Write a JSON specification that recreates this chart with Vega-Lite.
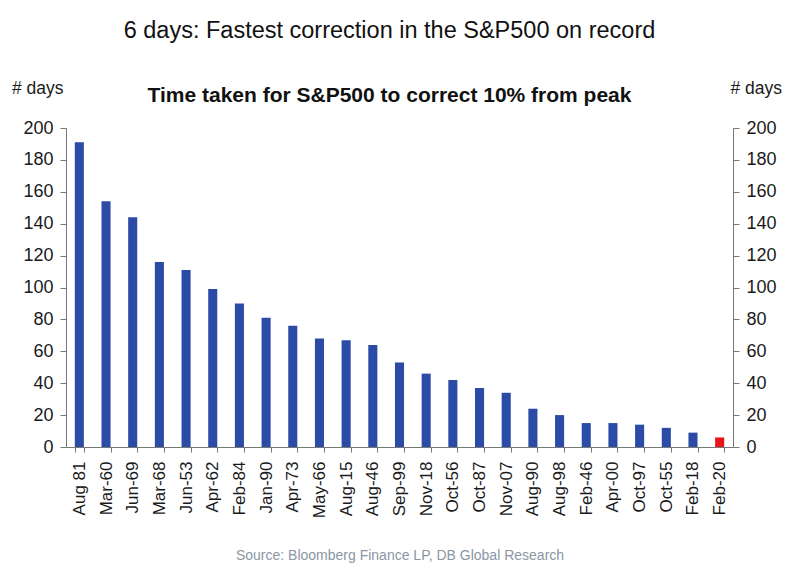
{
  "$schema": "https://vega.github.io/schema/vega-lite/v6.json",
  "width": 667,
  "height": 319,
  "autosize": {"type": "none"},
  "padding": {"left": 66, "top": 128, "right": 67, "bottom": 117},
  "background": "white",
  "config": {
    "font": "Liberation Sans",
    "view": {"stroke": null},
    "axis": {"grid": false, "domainColor": "#777777", "tickColor": "#777777", "labelColor": "#1a1a1a", "titleColor": "#1a1a1a"}
  },
  "title": {
    "text": "6 days: Fastest correction in the S&P500 on record",
    "subtitle": "Time taken for S&P500 to correct 10% from peak",
    "anchor": "middle",
    "fontSize": 23.5,
    "fontWeight": "normal",
    "color": "#111111",
    "subtitleFontSize": 21,
    "subtitleFontWeight": "bold",
    "subtitleColor": "#111111",
    "subtitlePadding": 43,
    "offset": -27,
    "dx": -10
  },
  "data": {
    "values": [
      {"period": "Aug 81", "days": 191},
      {"period": "Mar-60", "days": 154},
      {"period": "Jun-69", "days": 144},
      {"period": "Mar-68", "days": 116},
      {"period": "Jun-53", "days": 111},
      {"period": "Apr-62", "days": 99},
      {"period": "Feb-84", "days": 90},
      {"period": "Jan-90", "days": 81},
      {"period": "Apr-73", "days": 76},
      {"period": "May-66", "days": 68},
      {"period": "Aug-15", "days": 67},
      {"period": "Aug-46", "days": 64},
      {"period": "Sep-99", "days": 53},
      {"period": "Nov-18", "days": 46},
      {"period": "Oct-56", "days": 42},
      {"period": "Oct-87", "days": 37},
      {"period": "Nov-07", "days": 34},
      {"period": "Aug-90", "days": 24},
      {"period": "Aug-98", "days": 20},
      {"period": "Feb-46", "days": 15},
      {"period": "Apr-00", "days": 15},
      {"period": "Oct-97", "days": 14},
      {"period": "Oct-55", "days": 12},
      {"period": "Feb-18", "days": 9},
      {"period": "Feb-20", "days": 6}
    ]
  },
  "encoding": {
    "x": {
      "field": "period",
      "type": "nominal",
      "sort": null,
      "scale": {"paddingInner": 0.66, "paddingOuter": 0.33},
      "axis": {
        "title": "Source: Bloomberg Finance LP, DB Global Research",
        "titleColor": "#8a96a3",
        "titleFontSize": 14,
        "titleFontWeight": "normal",
        "titleY": 112,
        "titleBaseline": "alphabetic",
        "labelAngle": -90,
        "labelFontSize": 17,
        "labelPadding": 9,
        "tickSize": 5,
        "tickBand": "extent"
      }
    }
  },
  "layer": [
    {
      "mark": {"type": "bar"},
      "encoding": {
        "y": {
          "field": "days",
          "type": "quantitative",
          "scale": {"domain": [0, 200], "nice": false},
          "axis": {
            "orient": "left",
            "values": [0, 20, 40, 60, 80, 100, 120, 140, 160, 180, 200],
            "title": "# days",
            "titleAngle": 0,
            "titleAlign": "right",
            "titleBaseline": "alphabetic",
            "titleX": -3,
            "titleY": -35,
            "titleFontSize": 17.5,
            "titleFontWeight": "normal",
            "labelFontSize": 18,
            "labelPadding": 7,
            "tickSize": 6
          }
        },
        "color": {
          "condition": {"test": "datum.period === 'Feb-20'", "value": "#e8141c"},
          "value": "#2b4ba6"
        }
      }
    },
    {
      "mark": {"type": "bar", "opacity": 0},
      "encoding": {
        "y": {
          "field": "days",
          "type": "quantitative",
          "scale": {"domain": [0, 200], "nice": false},
          "axis": {
            "orient": "right",
            "values": [0, 20, 40, 60, 80, 100, 120, 140, 160, 180, 200],
            "title": "# days",
            "titleAngle": 0,
            "titleAlign": "left",
            "titleBaseline": "alphabetic",
            "titleX": -3,
            "titleY": -35,
            "titleFontSize": 17.5,
            "titleFontWeight": "normal",
            "labelFontSize": 18,
            "labelPadding": 7,
            "tickSize": 6
          }
        }
      }
    }
  ],
  "resolve": {"axis": {"y": "independent"}}
}
